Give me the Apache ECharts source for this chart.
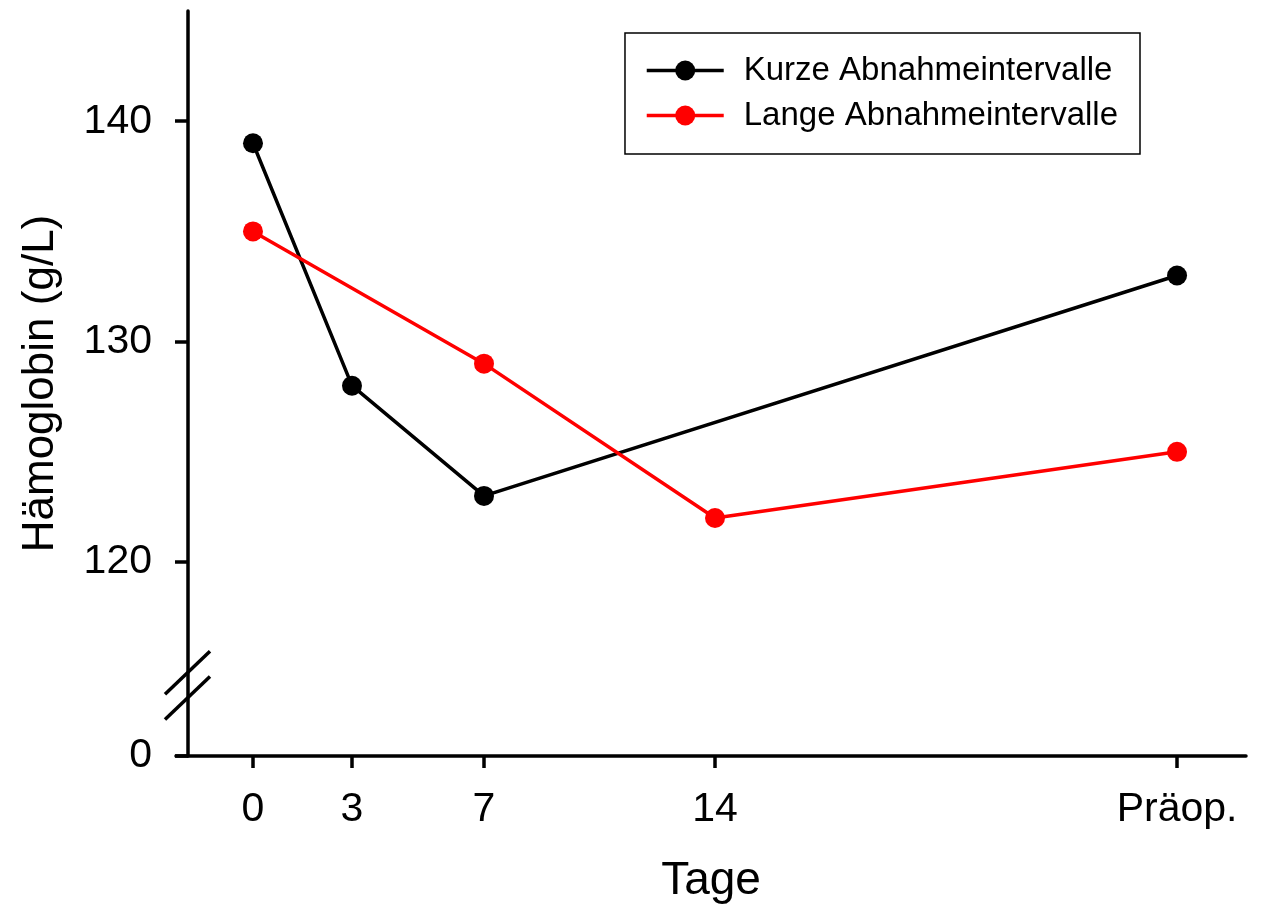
<!DOCTYPE html>
<html>
<head>
<meta charset="utf-8">
<script src="https://cdn.jsdelivr.net/npm/echarts@6/dist/echarts.min.js"></script>
<style>
  html, body { margin: 0; padding: 0; background: #fff; }
  #chart { width: 1266px; height: 911px; }
</style>
</head>
<body>
<div id="chart"></div>
<script>
// Tage (Präop. liegt bei x = 28 auf der Achse)
const xTicks = [0, 3, 7, 14, 28]
const xTickLabels = ['0', '3', '7', '14', 'Präop.']
const yTicks = [111.2, 120, 130, 140]
const yTickLabels = ['0', '120', '130', '140']

const kurzeX = [0, 3, 7, 28]
const kurzeY = [139, 128, 123, 133]
const langeX = [0, 7, 14, 28]
const langeY = [135, 129, 122, 125]

const font = 'Liberation Sans, Arial, sans-serif'

const chart = echarts.init(document.getElementById('chart'))

const pairs = (xs, ys) => xs.map((x, i) => [x, ys[i]])

const option = {
  animation: false,
  grid: { left: 176, right: 20, top: 11, bottom: 155 },
  legend: {
    right: 126,
    top: 33,
    orient: 'vertical',
    itemWidth: 77,
    itemHeight: 25,
    itemGap: 12,
    borderColor: '#000',
    borderWidth: 1.5,
    padding: [21, 22, 22, 20],
    lineStyle: { width: 3.5 },
    textStyle: { fontFamily: font, fontSize: 33, color: '#000', padding: [0, 0, 0, 15] },
    data: ['Kurze Abnahmeintervalle', 'Lange Abnahmeintervalle']
  },
  xAxis: {
    type: 'value',
    min: -2.333,
    max: 30.09,
    name: 'Tage',
    nameLocation: 'middle',
    nameGap: 102,
    nameTextStyle: { fontFamily: font, fontSize: 46, color: '#000' },
    splitLine: { show: false },
    axisLine: { onZero: false, lineStyle: { color: '#000', width: 3.5 } },
    axisTick: { length: 12, lineStyle: { color: '#000', width: 3.5 }, customValues: xTicks },
    axisLabel: {
      customValues: xTicks,
      margin: 33,
      fontFamily: font,
      fontSize: 41,
      color: '#000',
      formatter: v => xTickLabels[xTicks.indexOf(v)]
    }
  },
  yAxis: {
    type: 'value',
    min: 111.2,
    max: 145,
    offset: -12,
    name: 'Hämoglobin (g/L)',
    nameLocation: 'middle',
    nameGap: 125,
    nameTextStyle: { fontFamily: font, fontSize: 44, color: '#000' },
    splitLine: { show: false },
    axisLine: { show: true, onZero: false, lineStyle: { color: '#000', width: 3.5 } },
    axisTick: { show: true, length: 13, lineStyle: { color: '#000', width: 3.5 }, customValues: yTicks },
    axisLabel: {
      customValues: yTicks,
      margin: 36,
      fontFamily: font,
      fontSize: 41,
      color: '#000',
      formatter: v => yTickLabels[yTicks.indexOf(v)]
    }
  },
  series: [
    {
      name: 'Kurze Abnahmeintervalle',
      type: 'line',
      data: pairs(kurzeX, kurzeY),
      symbol: 'circle',
      symbolSize: 20,
      itemStyle: { color: '#000' },
      lineStyle: { color: '#000', width: 3.5 }
    },
    {
      name: 'Lange Abnahmeintervalle',
      type: 'line',
      data: pairs(langeX, langeY),
      symbol: 'circle',
      symbolSize: 20,
      itemStyle: { color: '#ff0000' },
      lineStyle: { color: '#ff0000', width: 3.5 }
    }
  ]
}

chart.setOption(option)

// Achsenbruch: Lücke in der y-Achse und zwei Schrägstriche
const drawBreak = () => {
  const top = chart.convertToPixel({ gridIndex: 0 }, [-1.97, 115])
  const bottom = chart.convertToPixel({ gridIndex: 0 }, [-1.97, 113.85])
  const ax = top[0]
  const slash = y => ({
    type: 'line',
    shape: { x1: ax - 23, y1: y + 22, x2: ax + 22, y2: y - 21 },
    style: { stroke: '#000', lineWidth: 3.5 }
  })
  chart.setOption({
    graphic: [
      {
        type: 'rect',
        shape: { x: ax - 4, y: top[1], width: 8, height: bottom[1] - top[1] },
        style: { fill: '#fff' }
      },
      slash(top[1]),
      slash(bottom[1])
    ]
  })
}
drawBreak()
</script>
</body>
</html>
